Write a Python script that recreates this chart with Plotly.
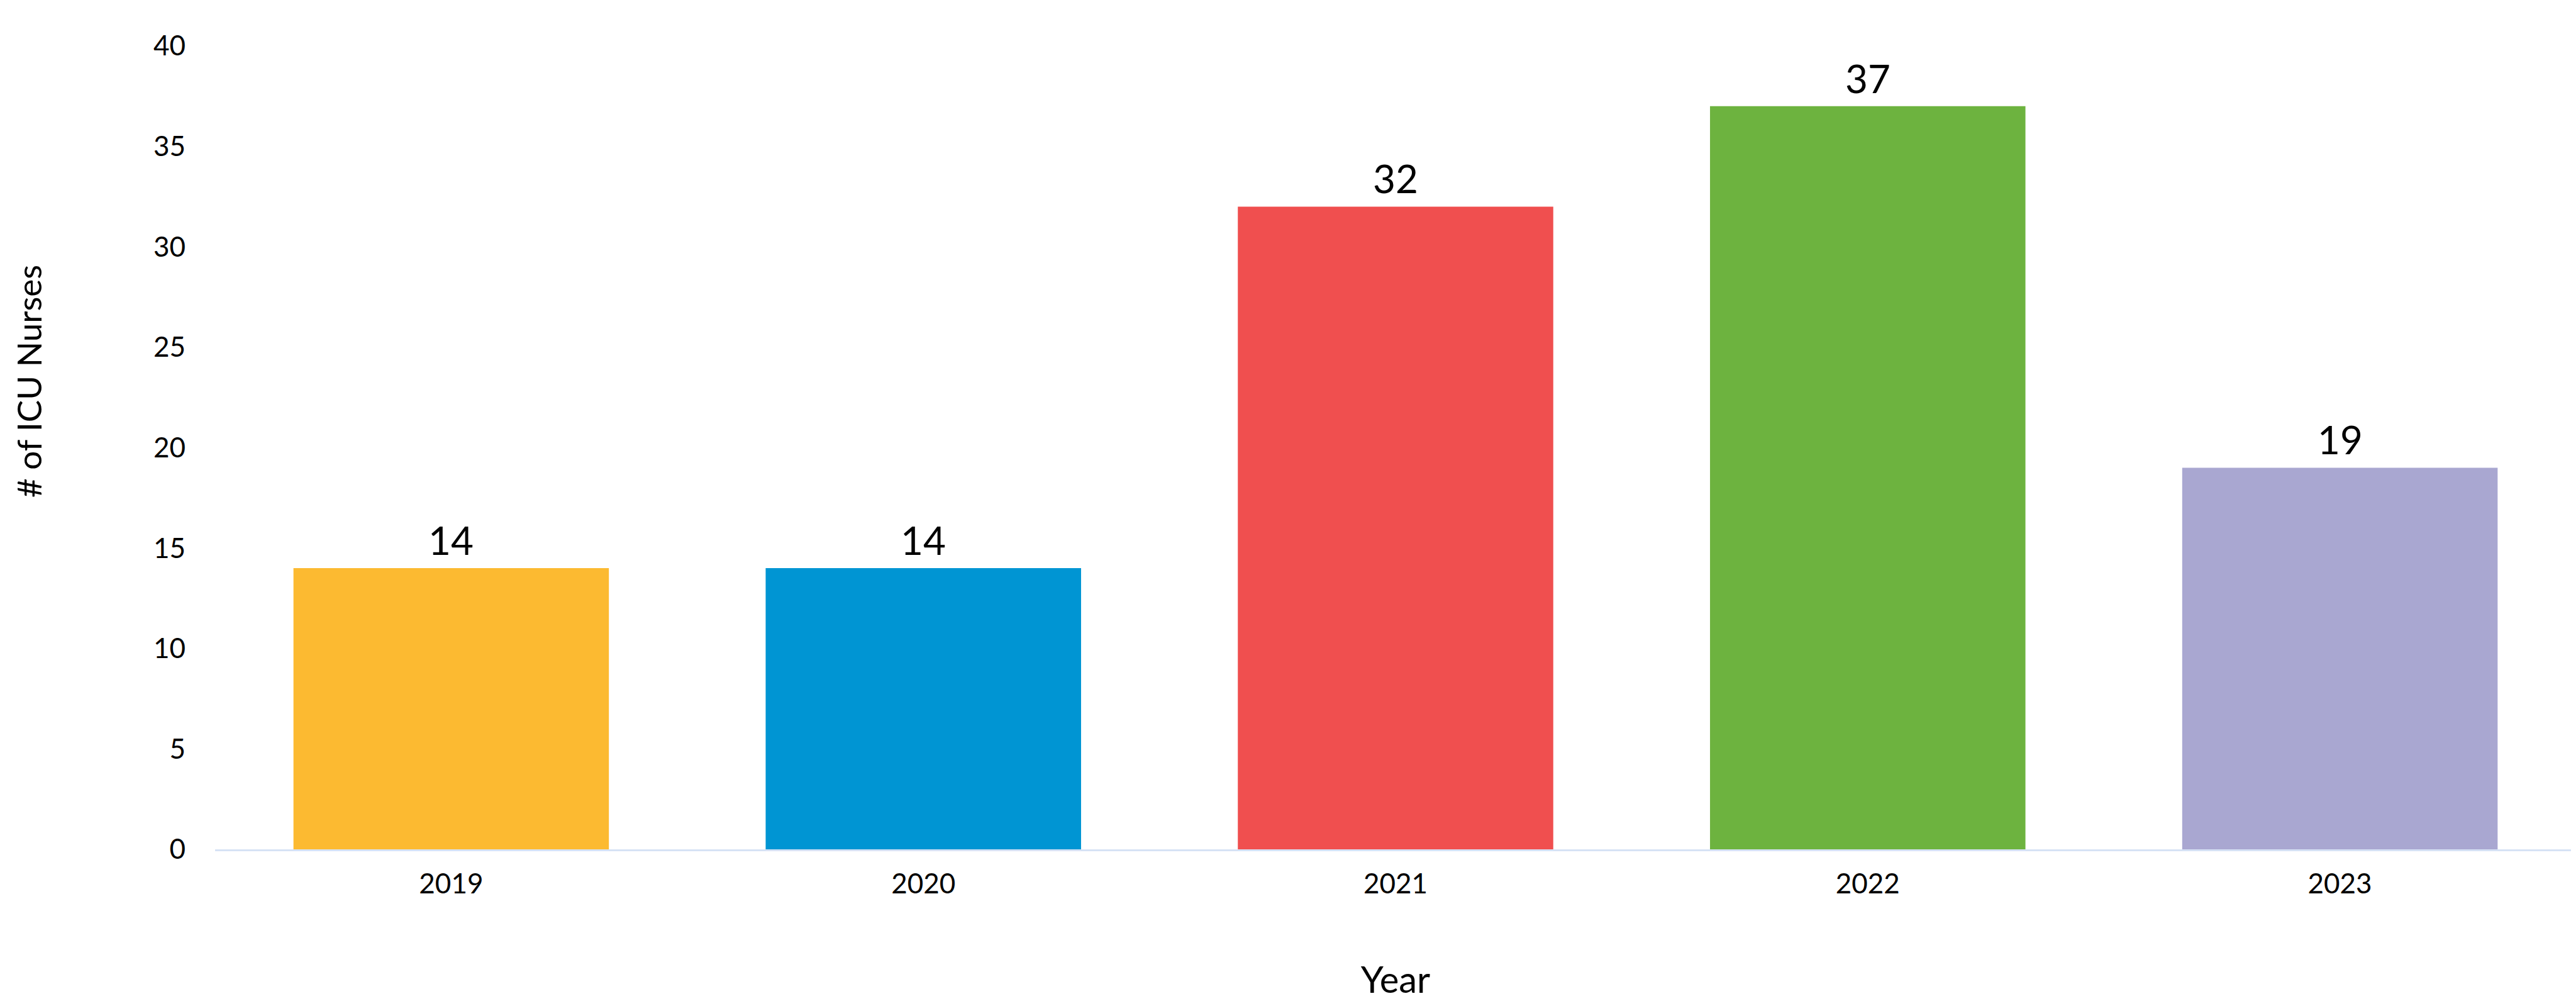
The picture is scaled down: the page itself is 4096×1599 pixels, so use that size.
import plotly.graph_objects as go

years = ["2019", "2020", "2021", "2022", "2023"]
nurses = [14, 14, 32, 37, 19]
bar_colors = ["#FCBA31", "#0095D3", "#F04F4F", "#6DB33F", "#A9A7D1"]
y_ticks = [0, 5, 10, 15, 20, 25, 30, 35, 40]

FONT = "Lato"

fig = go.Figure()
fig.add_trace(go.Bar(
    x=years, y=nurses,
    marker=dict(color=bar_colors, line=dict(width=0)),
    hoverinfo="x+y",
))

for i, v in enumerate(nurses):
    fig.add_annotation(x=i, y=v, text=str(v), showarrow=False,
                       yanchor="bottom", yshift=6,
                       font=dict(family=FONT, size=62, color="#000000"))

L, R, T, B = 334, 8, 65, 257
W, H = 4096, 1599
fig.add_annotation(xref="paper", yref="paper",
                   x=-(L - 37) / (W - L - R), y=(H - B - 598) / (H - T - B),
                   text="# of ICU Nurses", textangle=-90, showarrow=False,
                   xanchor="center", yanchor="middle",
                   font=dict(family=FONT, size=53, color="#000000"))

fig.update_layout(
    width=W, height=H,
    margin=dict(l=L, r=R, t=T, b=B),
    paper_bgcolor="white", plot_bgcolor="white",
    bargap=0.332,
    showlegend=False,
    font=dict(family=FONT, color="#000000"),
    xaxis=dict(
        type="category", categoryorder="array", categoryarray=years,
        range=[-0.5, len(years) - 0.5],
        showgrid=False, zeroline=False,
        showline=True, linecolor="#D6E2F5", linewidth=3,
        ticks="", ticklabelstandoff=14,
        tickfont=dict(family=FONT, size=44, color="#000000"),
        title=dict(text="Year", font=dict(family=FONT, size=58, color="#000000"), standoff=110),
    ),
    yaxis=dict(
        range=[0, 40], tickvals=y_ticks,
        showgrid=False, zeroline=False, showline=False,
        ticks="", ticklabelstandoff=46,
        tickfont=dict(family=FONT, size=44, color="#000000"),
    ),
)

fig.write_html("out.html")
